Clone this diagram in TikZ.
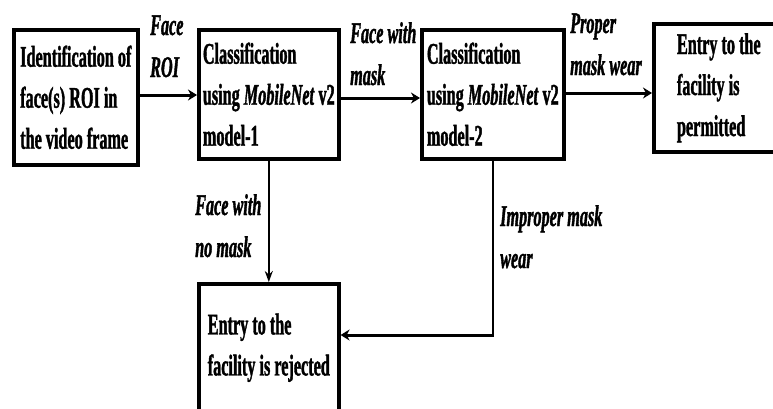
\documentclass[tikz,border=0pt]{standalone}
\usepackage{fontspec}
\newfontfamily\diafont[FakeStretch=0.54,FakeBold=1.2]{Liberation Serif}
\usetikzlibrary{arrows.meta}
\tikzset{
  box/.style={draw, line width=3.6pt, anchor=north west, align=left, inner sep=0pt,
    font=\diafont\bfseries\fontsize{30}{41}\selectfont},
  lab/.style={anchor=base west, align=left, inner sep=0pt,
    font=\diafont\bfseries\itshape\fontsize{30}{42}\selectfont},
  harrow/.style={line width=3pt, -{Stealth[length=9pt,width=11pt]}},
  varrow/.style={line width=1.8pt, -{Stealth[length=11pt,width=8pt]}},
  vline/.style={line width=1.8pt}
}
\begin{document}
\begin{tikzpicture}[x=1pt,y=-1pt]
\clip (0,0) rectangle (773,408);
\fill[white] (0,0) rectangle (773,408);
\node[box, minimum width=124pt, minimum height=135pt] (b1) at (12,28)
  {Identification of\\face(s) ROI in\\the video frame};
\node[box, minimum width=140pt, minimum height=129pt] (b2) at (197,28)
  {Classification\\using \textit{MobileNet} v2\\model-1};
\node[box, minimum width=142pt, minimum height=129pt] (b3) at (420,28)
  {Classification\\using \textit{MobileNet} v2\\model-2};
\node[box, minimum width=130pt, minimum height=128pt] (b4) at (652,22)
  {Entry to the\\facility is\\permitted};
\node[box, minimum width=140pt, minimum height=128pt] (b5) at (197,282)
  {Entry to the\\facility is rejected};
\coordinate (y1) at (0,95);
\coordinate (y2) at (0,98);
\coordinate (y3) at (0,93);
\coordinate (y4) at (0,335);
\coordinate (c1) at (b3.south |- y4);
\draw[harrow] (b1.east |- y1) -- (b2.west |- y1);
\draw[harrow] (b2.east |- y2) -- (b3.west |- y2);
\draw[harrow] (b3.east |- y3) -- (b4.west |- y3);
\draw[varrow] (b2.south) -- (b5.north);
\draw[vline] (b3.south) -- ([yshift=1.5pt]c1);
\draw[harrow] ([xshift=0.9pt]c1) -- (b5.east |- y4);
\node[lab] (l1) at (150,77) {Face\\ROI};
\node[lab] (l2) at (350,85) {Face with\\mask};
\node[lab] (l3) at (570,75) {Proper\\mask wear};
\node[lab] (l4) at (195,257) {Face with\\no mask};
\node[lab] (l5) at (500,268) {Improper mask\\wear};
\end{tikzpicture}
\end{document}
